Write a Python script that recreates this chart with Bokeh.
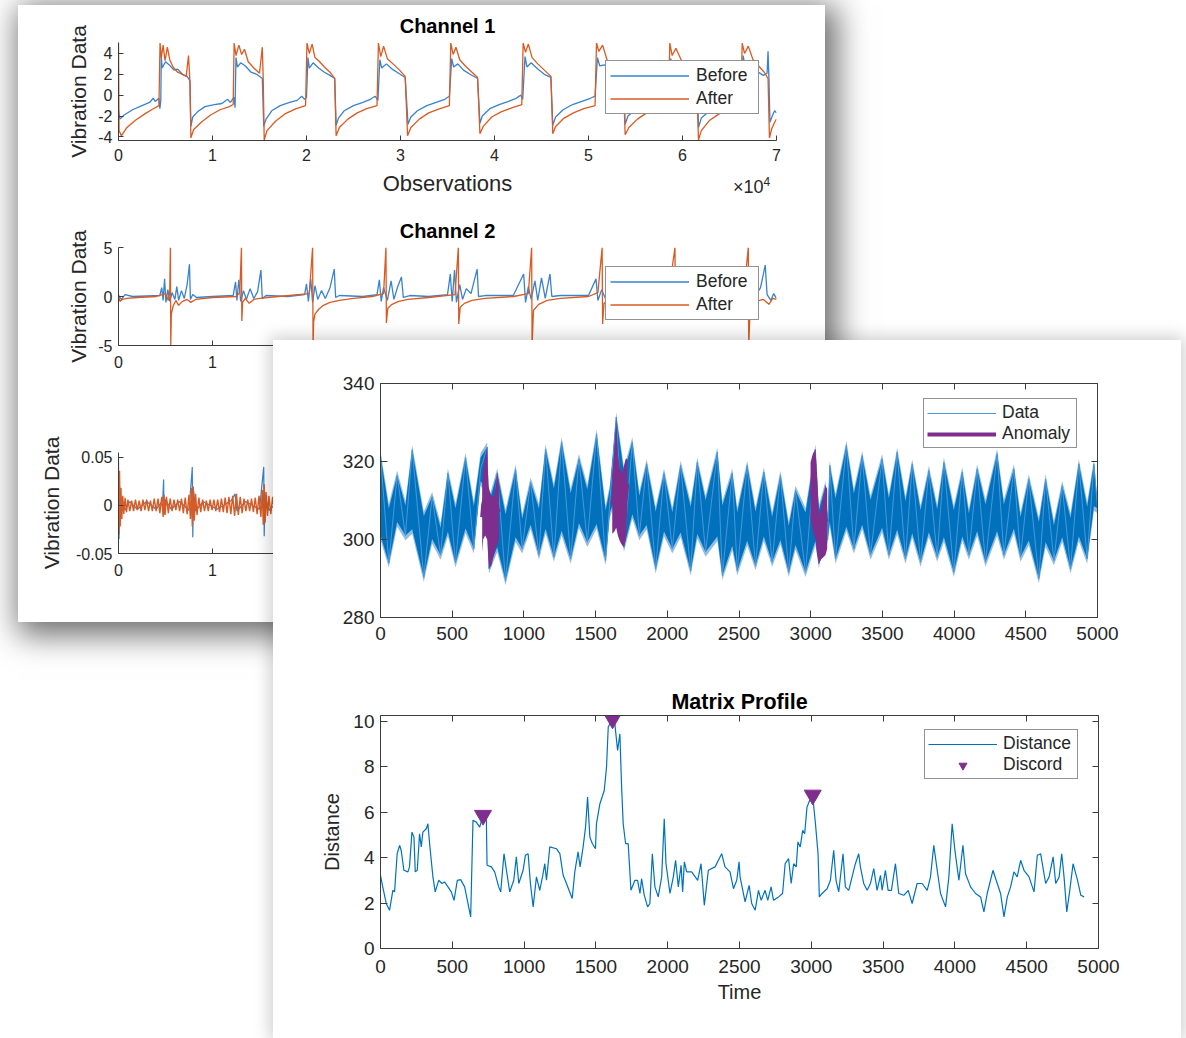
from bokeh.plotting import figure
from bokeh.models import (Range1d, LinearAxis, FixedTicker, Legend, LegendItem, Div, Column)
from bokeh.embed import file_html
from bokeh.resources import INLINE

FONT = "Liberation Sans"
AX = "#3c3c3c"
TXT = "#262626"
BLUE_OLD = "#3A82CD"
ORANGE = "#D95A22"
BLUE = "#0072BD"
PURPLE = "#7E2F8E"

# ------------------------------------------------------------------ data
ch_xticks = [0, 10000, 20000, 30000, 40000, 50000, 60000, 70000]
ch_xlabels = ["0", "1", "2", "3", "4", "5", "6", "7"]
ch_xlabels_cut = ["0", "1", "", "", "", "", "", ""]
ch1_yticks = [-4, -2, 0, 2, 4]
ch1_ylabels = ["-4", "-2", "0", "2", "4"]
ch2_yticks = [-5, 0, 5]
ch2_ylabels = ["-5", "0", "5"]
ch3_yticks = [-0.05, 0, 0.05]
ch3_ylabels = ["-0.05", "0", "0.05"]

ch1_before = [(0, -1.5), (150, -2.3), (600, -1.9), (1500, -1.4), (2500, -1.0), (3300, -0.7), (3700, -0.3),
              (3900, -0.6), (4300, -0.3), (4400, -1.3), (4500, -0.5), (4550, 3.7), (4650, 2.6), (5000, 3.2),
              (5400, 2.9), (5900, 2.4), (6300, 2.5), (6800, 2.0), (7300, 1.8), (7600, 1.4),
              (7700, -3.0), (7900, -2.1), (8400, -1.6), (9200, -1.1), (10200, -0.9), (11000, -0.8), (11600, -0.4),
              (11900, -0.7), (12300, -0.2), (12400, -1.2),
              (12500, 3.6), (12650, 2.7), (13000, 3.1), (13500, 2.8), (14100, 2.2), (14700, 2.0), (15300, 1.6),
              (15450, -3.0), (15700, -2.3), (16300, -1.5), (17200, -1.0), (18200, -0.7), (19000, -0.5), (19500, -0.1),
              (19800, -0.4), (20000, -0.2),
              (20150, 3.6), (20300, 2.6), (20700, 3.1), (21300, 2.6), (21900, 2.2), (22500, 1.9), (23000, 1.6),
              (23150, -2.9), (23400, -2.2), (24000, -1.5), (25000, -1.0), (26000, -0.7), (26800, -0.4), (27300, -0.1),
              (27600, -0.5),
              (27800, 3.4), (28000, 2.6), (28500, 3.0), (29100, 2.5), (29800, 2.1), (30500, 1.7),
              (30800, -2.8), (31100, -2.1), (31800, -1.5), (32800, -1.0), (33800, -0.7), (34700, -0.4), (35200, -0.1),
              (35450, 3.5), (35650, 2.7), (36100, 3.0), (36700, 2.4), (37400, 2.0), (38200, 1.6),
              (38450, -2.7), (38700, -2.0), (39500, -1.3), (40500, -0.9), (41500, -0.6), (42300, -0.3), (42800, 0.0),
              (43000, -0.4),
              (43250, 3.7), (43450, 2.7), (43900, 3.1), (44600, 2.5), (45300, 2.0), (46000, 1.7),
              (46200, -2.9), (46500, -2.1), (47300, -1.4), (48300, -0.9), (49300, -0.6), (50200, -0.3), (50700, -0.1),
              (50950, 3.6), (51200, 2.8), (51700, 2.9), (52500, 2.3), (53200, 1.9), (53700, 1.6),
              (53900, -2.8), (54200, -2.0), (55000, -1.4), (56000, -1.0), (57000, -0.7), (58000, -0.4), (58500, -0.2),
              (58750, 3.5), (59000, 2.7), (59600, 2.8), (60400, 2.2), (61100, 1.8), (61600, 1.5),
              (61700, -3.1), (62000, -2.2), (62900, -1.5), (63900, -1.0), (64900, -0.7), (65800, -0.4), (66200, -0.2),
              (66450, 3.8), (66700, 2.6), (67200, 2.9), (67900, 2.3), (68600, 1.9), (69000, 2.1), (69100, 4.2),
              (69200, 1.5), (69300, -2.6), (69550, -2.0), (69800, -1.5), (70000, -1.7)]

ch1_after = [(0, 5.0), (60, -3.4), (300, -3.9), (900, -3.1), (1800, -2.4), (2800, -1.8), (3700, -1.3), (4300, -1.0),
             (4420, 5.0), (4550, 3.6), (4750, 4.8), (4950, 3.3), (5200, 4.6), (5450, 3.4), (5800, 2.7), (6300, 2.2),
             (6800, 2.0), (7200, 1.8), (7450, 3.8), (7600, 1.2),
             (7700, -4.1), (8000, -3.3), (8800, -2.6), (9800, -1.9), (10800, -1.4), (11800, -1.1), (12200, -0.9),
             (12300, 5.0), (12500, 3.8), (12800, 4.8), (13100, 3.9), (13400, 4.4), (13800, 3.2), (14400, 2.6),
             (15000, 2.1), (15300, 4.6), (15400, 1.4),
             (15500, -4.3), (15800, -3.4), (16700, -2.5), (17700, -1.8), (18900, -1.3), (19900, -1.0),
             (20050, 5.0), (20300, 4.0), (20600, 4.9), (20900, 3.6), (21300, 3.3), (21900, 2.7), (22500, 2.2),
             (23000, 1.6),
             (23150, -3.9), (23500, -3.1), (24400, -2.3), (25400, -1.7), (26400, -1.3), (27500, -1.0),
             (27650, 5.0), (27900, 3.7), (28200, 4.7), (28600, 3.5), (29200, 3.0), (29900, 2.4), (30500, 1.8),
             (30750, -3.9), (31100, -3.1), (32000, -2.3), (33000, -1.7), (34200, -1.3), (35200, -1.0),
             (35350, 5.0), (35600, 3.9), (35900, 4.6), (36300, 3.4), (36900, 2.8), (37600, 2.2), (38200, 1.7),
             (38450, -3.7), (38800, -3.0), (39700, -2.1), (40700, -1.6), (41900, -1.2), (42900, -0.9),
             (43050, 5.0), (43300, 4.1), (43600, 4.9), (44000, 3.6), (44600, 3.0), (45300, 2.4), (46000, 1.8),
             (46200, -3.7), (46500, -3.0), (47400, -2.2), (48400, -1.7), (49500, -1.3), (50700, -1.0),
             (50850, 5.0), (51100, 4.2), (51500, 4.8), (52000, 3.3), (52700, 2.6), (53300, 2.1), (53700, 1.6),
             (53900, -3.8), (54300, -3.1), (55200, -2.3), (56200, -1.7), (57300, -1.3), (58500, -1.0),
             (58650, 5.0), (58900, 3.8), (59300, 4.5), (59900, 3.3), (60600, 2.6), (61200, 2.0), (61500, 1.6),
             (61700, -4.3), (62000, -3.4), (62900, -2.4), (63900, -1.8), (65100, -1.3), (66200, -1.0),
             (66350, 5.0), (66600, 4.0), (67000, 4.7), (67500, 3.4), (68100, 2.8), (68700, 2.2), (69100, 1.6),
             (69250, -4.1), (69500, -3.2), (69800, -2.6), (70000, -2.3)]

ch2_before = [(0, 0.1), (300, -0.3), (700, 0.2), (1500, 0.0), (3000, 0.05), (4400, 0.1), (4600, 0.9), (4750, -0.4),
              (4900, 1.8), (5050, -0.6), (5250, 0.7), (5450, -0.5), (5700, 0.4), (6000, -0.3), (6200, 1.0),
              (6400, -0.4), (6700, 0.6), (7000, -0.2), (7300, 1.2), (7550, 3.3), (7650, -0.3), (7900, 0.2),
              (8300, -0.1), (10000, 0.0), (12200, 0.1), (12450, 1.5), (12600, -0.4), (12800, 1.7), (13000, -0.5),
              (13300, 0.6), (13600, -0.3), (14000, 0.8), (14400, -0.2), (14800, 0.5), (15150, 2.7), (15300, -0.2),
              (15700, 0.1), (18000, 0.0), (19800, 0.2), (20000, 1.3), (20200, -0.5), (20450, 1.8), (20650, -0.6),
              (20900, 1.1), (21200, -0.3), (21600, 0.6), (22000, -0.2), (22500, 0.9), (22950, 2.8), (23100, -0.1),
              (23500, 0.1), (26000, 0.0), (27500, 0.2), (27750, 1.7), (27950, -0.5), (28200, 0.9), (28600, -0.4),
              (29000, 1.6), (29300, -0.3), (29700, 1.0), (30100, 2.0), (30300, -0.1), (31000, 0.1), (33000, 0.0),
              (35000, 0.2), (35300, 2.3), (35500, -0.5), (35750, 2.7), (35950, -0.6), (36300, 1.2), (36600, -0.3),
              (37000, 0.8), (37500, 0.3), (38150, 2.8), (38300, 0.0), (39000, 0.1), (42000, 0.1), (43100, 2.3),
              (43300, -0.6), (43600, 1.0), (43900, -0.3), (44300, 1.6), (44600, -0.4), (45000, 1.9), (45400, -0.2),
              (45900, 2.3), (46100, 0.0), (47000, 0.1), (50000, 0.1), (50800, 1.8), (51000, -0.4), (51400, 0.7),
              (51800, -0.2), (52300, 0.5), (53000, 0.1), (55000, 0.0), (58600, 0.3), (58800, 1.6), (59100, -0.4),
              (59600, 0.6), (60200, 0.1), (62000, 0.0), (66200, 0.3), (66400, 1.7), (66700, -0.5), (67100, 0.6),
              (67600, -0.2), (68300, 0.9), (68800, 3.2), (69000, 0.2), (69400, -0.4), (69700, 0.3), (70000, -0.2)]

ch2_after = [(0, 0.2), (150, -0.5), (400, -0.3), (900, -0.2), (2000, -0.1), (4000, 0.0), (5000, 0.3), (5300, -0.4),
             (5450, 0.5), (5520, 5.0), (5560, -5.0), (5620, -1.8), (5800, -1.0), (6100, -0.4), (6400, -0.9),
             (6800, -0.5), (7300, -0.3), (7700, -0.6), (8200, -0.3), (10000, -0.1), (12500, 0.0), (12900, 0.4),
             (13080, 5.0), (13120, -2.5), (13200, -0.6), (13500, -0.2), (13900, -0.7), (14400, -0.3), (15000, -0.2),
             (17000, 0.0), (20300, 0.3), (20650, 5.0), (20700, -5.0), (20760, -2.6), (20900, -1.8), (21300, -1.3),
             (21800, -0.9), (22500, -0.6), (23500, -0.4), (25000, -0.2), (27000, 0.0), (28200, 0.3), (28450, 5.0),
             (28500, -2.7), (28650, -1.2), (29100, -0.8), (29800, -0.5), (30800, -0.3), (33000, -0.1), (35800, 0.2),
             (36150, 5.0), (36200, -2.8), (36350, -1.1), (36800, -0.7), (37600, -0.4), (39000, -0.2), (42000, 0.0),
             (43600, 0.3), (43950, 5.0), (44000, -5.0), (44150, -1.4), (44700, -0.8), (45600, -0.4), (47000, -0.2),
             (50000, 0.0), (51000, 0.4), (51450, 5.0), (51500, -2.8), (51650, -0.7), (52200, -0.3), (54000, -0.1),
             (58500, 0.2), (59200, 5.0), (59250, -1.5), (59500, -0.4), (62000, -0.1), (66500, 0.2), (67000, 5.0),
             (67050, -5.0), (67200, -1.0), (67800, -0.5), (68600, -0.3), (69200, -0.8), (69600, -0.2), (70000, -0.3)]

ch3_before = [(0, 0.05), (60, -0.035), (120, 0.02), (200, -0.015), (400, 0.006), (700, -0.005), (1200, 0.004),
              (2000, -0.004), (3000, 0.004), (4000, -0.004), (4700, 0.005), (4800, 0.027), (4850, -0.01),
              (5000, 0.006), (5600, -0.004), (6500, 0.004), (7500, -0.005), (7850, 0.04), (7900, -0.033),
              (8000, 0.015), (8200, -0.006), (9000, 0.004), (10500, -0.004), (12000, 0.005), (12400, 0.012),
              (12600, -0.006), (13500, 0.004), (15000, -0.004), (15450, 0.04), (15500, -0.032), (15600, 0.01),
              (16000, -0.005), (17000, 0.004)]

ch3_after = [(0, 0.032), (50, -0.03), (110, 0.036), (180, -0.022), (260, 0.018), (350, -0.014), (450, 0.01),
             (560, -0.009), (700, 0.008), (850, -0.007), (1000, 0.006), (1200, -0.006), (1400, 0.005), (1600, -0.006),
             (1800, 0.006), (2000, -0.005), (2200, 0.005), (2400, -0.006), (2600, 0.006), (2800, -0.005),
             (3000, 0.006), (3200, -0.006), (3400, 0.005), (3600, -0.006), (3800, 0.007), (4000, -0.006),
             (4200, 0.007), (4400, -0.008), (4600, 0.009), (4750, -0.012), (4850, 0.011), (4950, -0.01),
             (5100, 0.009), (5300, -0.008), (5500, 0.007), (5700, -0.006), (5900, 0.006), (6100, -0.005),
             (6300, 0.006), (6500, -0.006), (6700, 0.007), (6900, -0.008), (7100, 0.008), (7300, -0.009),
             (7500, 0.011), (7650, -0.014), (7750, 0.018), (7850, -0.022), (7950, 0.02), (8050, -0.016),
             (8200, 0.012), (8350, -0.01), (8550, 0.008), (8750, -0.007), (8950, 0.006), (9150, -0.006),
             (9350, 0.005), (9550, -0.006), (9750, 0.006), (9950, -0.005), (10150, 0.006), (10350, -0.006),
             (10550, 0.006), (10750, -0.007), (10950, 0.007), (11150, -0.007), (11350, 0.008), (11550, -0.008),
             (11750, 0.009), (11950, -0.009), (12150, 0.01), (12350, -0.011), (12550, 0.012), (12750, -0.01),
             (12950, 0.009), (13150, -0.008), (13350, 0.007), (13550, -0.006), (13750, 0.006), (13950, -0.006),
             (14150, 0.007), (14350, -0.007), (14550, 0.008), (14750, -0.009), (14950, 0.01), (15150, -0.012),
             (15300, 0.016), (15400, -0.02), (15500, 0.022), (15600, -0.018), (15700, 0.014), (15850, -0.011),
             (16000, 0.01), (16200, -0.009), (16400, 0.009), (16600, -0.008), (16800, 0.008), (17000, -0.007)]

front_xticks = [0, 500, 1000, 1500, 2000, 2500, 3000, 3500, 4000, 4500, 5000]
data_yticks = [280, 300, 320, 340]
mp_yticks = [0, 2, 4, 6, 8, 10]

data_series = [(0, 321.5), (58, 294), (116, 316.4), (174, 301), (221, 323), (302, 290.3), (360, 311), (419, 296),
               (470, 317), (523, 294), (593, 321), (651, 297.6), (698, 318), (744, 323.7), (756, 292.5), (814, 317),
               (872, 289.5), (942, 318), (988, 297.6), (1047, 314.7), (1105, 296), (1151, 323.2), (1209, 295.5),
               (1263, 325), (1326, 295), (1384, 320.7), (1442, 299.3), (1507, 327), (1570, 294.6), (1600, 310),
               (1644, 331.4), (1698, 298), (1756, 325), (1805, 301), (1856, 319.4), (1919, 292.5), (1977, 317),
               (2035, 297.6), (2093, 319), (2163, 292), (2209, 319.8), (2267, 296.8), (2349, 322.4), (2384, 290.8),
               (2453, 317), (2488, 292), (2557, 319), (2615, 293.3), (2673, 317.3), (2731, 294.2), (2789, 316.4),
               (2847, 291.6), (2894, 312.6), (2964, 291.6), (3033, 323.2), (3057, 293.8), (3103, 313.8),
               (3118, 300), (3133, 319), (3173, 295), (3249, 324.1), (3301, 297.6), (3359, 321.5), (3417, 296),
               (3498, 320.7), (3545, 296), (3603, 322.4), (3661, 295), (3708, 319.4), (3766, 294.2), (3824, 317.7),
               (3882, 295.5), (3929, 319.8), (3998, 291.6), (4057, 317.3), (4103, 296), (4161, 318.1), (4219, 294.2),
               (4300, 322), (4347, 296), (4417, 318.1), (4463, 295.5), (4521, 315.5), (4591, 290), (4638, 315.5),
               (4696, 294.6), (4754, 313.8), (4812, 292.5), (4870, 319.4), (4928, 295), (4975, 319.4), (5000, 308)]

# anomaly subsequences: x, upper and lower outline of the dense purple trace
anom1_x = [709, 716, 730, 744, 752, 760, 775, 790, 805, 814, 826]
anom1_hi = [314.7, 318, 321, 323.7, 314, 312.6, 311, 311, 314, 317.3, 314]
anom1_lo = [296.7, 300, 301, 300, 295, 292.5, 293.5, 296, 298, 298.5, 300]
anom2_x = [1616, 1630, 1644, 1655, 1670, 1685, 1698, 1710, 1721]
anom2_hi = [316.4, 322, 331.4, 322, 318, 317, 319, 320.7, 320.7]
anom2_lo = [301.5, 302, 303, 301, 299.5, 298.5, 298, 300, 307.9]
anom3_x = [2999, 3015, 3033, 3045, 3057, 3075, 3090, 3103, 3115]
anom3_hi = [319.8, 322, 323.2, 316, 306, 308, 311, 313.8, 313]
anom3_lo = [305.3, 302, 300, 296, 293.8, 295, 295.5, 296, 297.6]

matrix_profile = [(0, 3.22), (16, 2.7), (40, 1.98), (63, 1.68), (86, 2.56), (98, 2.49), (116, 4.17), (133, 4.54),
                  (144, 4.32), (163, 3.44), (191, 3.37), (202, 3.59), (219, 5.12), (233, 4.9), (242, 3.37),
                  (256, 3.44), (272, 5.05), (284, 4.47), (295, 5.12), (319, 5.27), (330, 5.49), (342, 4.61),
                  (365, 3.15), (381, 2.49), (405, 3.0), (428, 2.86), (446, 2.93), (470, 2.71), (493, 2.49),
                  (512, 2.12), (535, 3.0), (558, 3.03), (586, 2.71), (609, 1.98), (628, 1.39), (644, 5.64),
                  (667, 5.56), (691, 5.34), (714, 5.86), (737, 5.71), (742, 3.66), (772, 3.59), (795, 3.37),
                  (823, 2.71), (837, 2.49), (860, 4.17), (877, 3.44), (900, 2.49), (928, 3.0), (946, 4.03),
                  (963, 2.86), (993, 3.44), (1009, 4.1), (1028, 4.17), (1044, 2.86), (1063, 1.83), (1086, 3.15),
                  (1109, 2.56), (1128, 3.15), (1144, 3.73), (1156, 3.0), (1179, 4.47), (1225, 4.39), (1249, 4.17),
                  (1272, 3.22), (1295, 2.86), (1335, 2.2), (1353, 3.37), (1376, 4.25), (1390, 3.59), (1411, 4.47),
                  (1428, 5.34), (1442, 6.66), (1458, 4.9), (1476, 4.61), (1497, 4.39), (1504, 5.49), (1528, 6.37),
                  (1558, 6.95), (1574, 7.98), (1586, 9.74), (1609, 10.03), (1632, 9.88), (1651, 8.71), (1667, 9.44),
                  (1679, 7.1), (1690, 5.49), (1707, 4.61), (1725, 4.61), (1744, 2.56), (1772, 3.0), (1790, 3.0),
                  (1807, 2.42), (1818, 3.07), (1837, 2.34), (1860, 1.83), (1876, 1.98), (1893, 4.17), (1911, 2.71),
                  (1934, 2.27), (1958, 3.15), (1976, 5.71), (1988, 3.73), (2016, 2.42), (2039, 3.15), (2055, 3.88),
                  (2074, 2.71), (2093, 3.66), (2104, 2.49), (2116, 3.81), (2132, 3.37), (2167, 3.37), (2209, 3.0),
                  (2232, 3.73), (2255, 1.9), (2283, 3.44), (2330, 3.59), (2376, 4.17), (2399, 3.59), (2434, 3.37),
                  (2458, 2.63), (2481, 3.0), (2497, 3.81), (2504, 3.15), (2539, 2.05), (2567, 2.78), (2585, 1.98),
                  (2609, 1.68), (2632, 2.56), (2651, 2.12), (2678, 2.56), (2697, 2.12), (2720, 2.71), (2737, 2.12),
                  (2772, 2.27), (2800, 2.42), (2818, 3.73), (2842, 3.95), (2860, 2.86), (2877, 3.73), (2895, 3.59),
                  (2907, 4.69), (2923, 4.47), (2940, 5.2), (2954, 5.05), (2970, 6.22), (2989, 6.52), (3010, 6.7),
                  (3029, 5.49), (3047, 4.17), (3056, 2.27), (3075, 2.42), (3110, 2.63), (3133, 3.0), (3156, 4.32),
                  (3172, 3.0), (3191, 2.49), (3221, 4.17), (3237, 2.71), (3261, 2.56), (3284, 3.15), (3307, 3.73),
                  (3330, 4.17), (3342, 3.59), (3365, 2.86), (3389, 2.56), (3412, 2.86), (3435, 3.51), (3458, 2.56),
                  (3482, 3.22), (3493, 2.56), (3516, 3.44), (3535, 2.56), (3558, 2.56), (3586, 3.73), (3609, 2.42),
                  (3644, 2.34), (3675, 2.56), (3702, 1.98), (3737, 2.86), (3772, 2.86), (3807, 2.56), (3830, 3.15),
                  (3853, 4.54), (3877, 3.44), (3900, 2.42), (3935, 1.83), (3958, 3.15), (3981, 5.49), (4000, 4.32),
                  (4028, 3.0), (4056, 4.54), (4074, 3.29), (4109, 2.71), (4144, 2.42), (4179, 2.27), (4202, 1.61),
                  (4225, 2.42), (4265, 3.44), (4295, 2.86), (4318, 2.42), (4342, 1.39), (4365, 2.27), (4388, 2.71),
                  (4411, 3.37), (4434, 3.15), (4458, 3.88), (4481, 3.44), (4516, 3.15), (4551, 2.49), (4574, 4.1),
                  (4597, 4.17), (4632, 2.86), (4656, 3.15), (4684, 4.03), (4702, 2.86), (4726, 3.15), (4744, 4.17),
                  (4760, 3.15), (4779, 1.61), (4800, 2.56), (4823, 3.73), (4854, 3.0), (4877, 2.34), (4900, 2.27)]

discords = [(714, 5.86), (1616, 10.1), (3010, 6.75)]

# visual depth of the dense band: how far the white gaps reach into it (style, data units)
GAP_TOP = 11
GAP_BOTTOM = 7


def xs(pts):
    return [p[0] for p in pts]


def ys(pts):
    return [p[1] for p in pts]


def band(pts):
    """Upper/lower outline of a densely sampled oscillating trace through its read extremes."""
    y = ys(pts)
    up, lo = [], []
    for i, v in enumerate(y):
        nb = [y[j] for j in (i - 1, i + 1) if 0 <= j < len(y)]
        avg = sum(nb) / len(nb)
        if all(v >= n for n in nb):
            up.append(v)
            lo.append(min(v, avg + GAP_BOTTOM))
        elif all(v <= n for n in nb):
            lo.append(v)
            up.append(max(v, avg - GAP_TOP))
        else:
            up.append(v + 3)
            lo.append(v - 3)
    return up, lo


# ------------------------------------------------------------------ helpers
def make_fig(left, top, fw, fh, ml, mr, mt, mb, xr, yr, fill="white"):
    p = figure(frame_width=fw, frame_height=fh, min_border_left=ml, min_border_right=mr,
               min_border_top=mt, min_border_bottom=mb, x_range=xr, y_range=yr,
               output_backend="svg", toolbar_location=None,
               styles={"position": "absolute", "left": f"{left}px", "top": f"{top}px"})
    p.xgrid.visible = False
    p.ygrid.visible = False
    p.outline_line_color = None
    p.background_fill_color = fill
    p.border_fill_color = fill
    return p


def style_axis(ax, ticks, labels, tick_fs, label_fs, standoff, label_standoff, tick_in=5):
    ax.ticker = FixedTicker(ticks=ticks)
    if labels is not None:
        ax.major_label_overrides = {t: l for t, l in zip(ticks, labels)}
    ax.axis_line_color = AX
    ax.axis_line_width = 1
    ax.major_tick_line_color = AX
    ax.major_tick_in = tick_in
    ax.major_tick_out = 0
    ax.minor_tick_line_color = None
    ax.major_label_standoff = standoff
    ax.major_label_text_font = FONT
    ax.major_label_text_font_size = f"{tick_fs}px"
    ax.major_label_text_color = TXT
    ax.axis_label_standoff = label_standoff
    ax.axis_label_text_font = FONT
    ax.axis_label_text_font_size = f"{label_fs}px"
    ax.axis_label_text_font_style = "normal"
    ax.axis_label_text_color = TXT


def add_box(p, xticks, yticks):
    for loc, ticks in (("above", xticks), ("right", yticks)):
        ax = LinearAxis(ticker=FixedTicker(ticks=ticks))
        ax.axis_line_color = AX
        ax.major_tick_line_color = AX
        ax.major_tick_in = 6
        ax.major_tick_out = 0
        ax.minor_tick_line_color = None
        ax.major_label_text_font_size = "0px"
        ax.major_label_text_color = None
        ax.major_label_standoff = 0
        p.add_layout(ax, loc)


def set_title(p, text, size, standoff):
    p.title.text = text
    p.title.align = "center"
    p.title.text_font = FONT
    p.title.text_font_size = f"{size}px"
    p.title.text_font_style = "bold"
    p.title.text_color = "black"
    p.title.standoff = standoff


def make_legend(items, loc, fs, pad, spacing, gw, gh, stand, lw):
    return Legend(items=items, location=loc, label_text_font=FONT, label_text_font_size=f"{fs}px",
                  label_text_color=TXT, padding=pad, spacing=spacing, margin=0, glyph_width=gw,
                  glyph_height=gh, label_height=gh, label_standoff=stand, label_width=lw,
                  border_line_color="#262626", border_line_width=1, background_fill_color="white",
                  background_fill_alpha=1.0)


# ------------------------------------------------------------------ back window
bg_panel = Div(text="", width=807, height=617,
               styles={"position": "absolute", "left": "13px", "top": "0px", "width": "807px",
                       "height": "617px", "background-color": "white",
                       "box-shadow": "6px 7px 30px 6px rgba(0,0,0,0.58)"})

# Channel 1
ch1 = make_fig(11, 5, 658, 98, 93, 49, 37, 62, Range1d(0, 70000), Range1d(-4.35, 5.05), fill=None)
set_title(ch1, "Channel 1", 20, 11)
style_axis(ch1.xaxis[0], ch_xticks, ch_xlabels, 16, 22, 8, 7)
style_axis(ch1.yaxis[0], ch1_yticks, ch1_ylabels, 16, 21, 6, 5)
ch1.xaxis[0].axis_label = "Observations"
ch1.yaxis[0].axis_label = "Vibration Data"
r1b = ch1.line(xs(ch1_before), ys(ch1_before), line_color=BLUE_OLD, line_width=1.3)
r1a = ch1.line(xs(ch1_after), ys(ch1_after), line_color=ORANGE, line_width=1.3)
ch1.add_layout(make_legend([LegendItem(label="Before", renderers=[r1b]),
                            LegendItem(label="After", renderers=[r1a])],
                           (487, 26), 17.5, 4, 2, 79, 21, 7, 58))
exp_label = Div(text="×10<sup style='font-size:12px'>4</sup>", width=60, height=26,
                styles={"position": "absolute", "left": "728px", "top": "166px", "font-family": FONT,
                        "font-size": "18px", "color": TXT, "line-height": "22px"})

# Channel 2
ch2 = make_fig(11, 205, 658, 98, 93, 49, 42, 40, Range1d(0, 70000), Range1d(-5, 5), fill=None)
set_title(ch2, "Channel 2", 20, 11)
style_axis(ch2.xaxis[0], ch_xticks, ch_xlabels_cut, 16, 21, 10, 3)
style_axis(ch2.yaxis[0], ch2_yticks, ch2_ylabels, 16, 21, 6, 5)
ch2.yaxis[0].axis_label = "Vibration Data"
r2b = ch2.line(xs(ch2_before), ys(ch2_before), line_color=BLUE_OLD, line_width=1.3)
r2a = ch2.line(xs(ch2_after), ys(ch2_after), line_color=ORANGE, line_width=1.3)
ch2.add_layout(make_legend([LegendItem(label="Before", renderers=[r2b]),
                            LegendItem(label="After", renderers=[r2a])],
                           (487, 25), 17.5, 4, 2, 79, 21, 7, 58))

# Channel 3 (mostly hidden behind the front window)
ch3 = make_fig(11, 400, 658, 101, 93, 49, 52, 45, Range1d(0, 70000), Range1d(-0.05, 0.055), fill=None)
style_axis(ch3.xaxis[0], ch_xticks, ch_xlabels_cut, 16, 21, 10, 3)
style_axis(ch3.yaxis[0], ch3_yticks, ch3_ylabels, 16, 21, 6, 10)
ch3.yaxis[0].axis_label = "Vibration Data"
ch3.line(xs(ch3_before), ys(ch3_before), line_color=BLUE_OLD, line_width=1.2)
ch3.line(xs(ch3_after), ys(ch3_after), line_color=ORANGE, line_width=1.4)

# ------------------------------------------------------------------ front window
fr_panel = Div(text="", width=908, height=698,
               styles={"position": "absolute", "left": "268px", "top": "335px", "width": "908px",
                       "height": "698px", "background-color": "white",
                       "box-shadow": "0px 0px 16px 3px rgba(0,0,0,0.2)"})

top = make_fig(273, 350, 717, 234, 107, 83, 33, 43, Range1d(0, 5000), Range1d(280, 340))
style_axis(top.xaxis[0], front_xticks, None, 19, 20, 9, 4, tick_in=7)
style_axis(top.yaxis[0], data_yticks, None, 19, 20, 6, 6, tick_in=7)
add_box(top, front_xticks, data_yticks)
dx, dy = xs(data_series), ys(data_series)
d_up, d_lo = band(data_series)
top.varea(x=dx, y1=[v - 1.2 for v in d_lo], y2=[v + 1.2 for v in d_up], fill_color="#74ade0", fill_alpha=0.8)
top.varea(x=dx, y1=d_lo, y2=d_up, fill_color=BLUE)
r_data = top.line(dx, dy, line_color="#4a97d9", line_width=1)
anom_legend = None
for axs, ahi, alo in ((anom1_x, anom1_hi, anom1_lo), (anom2_x, anom2_hi, anom2_lo), (anom3_x, anom3_hi, anom3_lo)):
    top.varea(x=axs, y1=alo, y2=ahi, fill_color=PURPLE)
    r = top.line(axs, [(h + l) / 2 for h, l in zip(ahi, alo)], line_color=PURPLE, line_width=4)
    if anom_legend is None:
        anom_legend = r
top.add_layout(make_legend([LegendItem(label="Data", renderers=[r_data]),
                            LegendItem(label="Anomaly", renderers=[anom_legend])],
                           (543, 169), 17.5, 3, 0, 69, 20, 6, 71))

mp = make_fig(273, 672, 718, 233, 106, 83, 43, 77, Range1d(0, 5000), Range1d(0, 10.25))
set_title(mp, "Matrix Profile", 21.5, 4)
style_axis(mp.xaxis[0], front_xticks, None, 19, 20, 11, 5, tick_in=7)
style_axis(mp.yaxis[0], mp_yticks, None, 19, 20, 6, 7, tick_in=7)
mp.xaxis[0].axis_label = "Time"
mp.yaxis[0].axis_label = "Distance"
add_box(mp, front_xticks, mp_yticks)
r_mp = mp.line(xs(matrix_profile), ys(matrix_profile), line_color=BLUE, line_width=1.2)
r_disc = mp.scatter(xs(discords), ys(discords), marker="inverted_triangle", size=17,
                    fill_color=PURPLE, line_color=PURPLE)
mp.add_layout(make_legend([LegendItem(label="Distance", renderers=[r_mp]),
                           LegendItem(label="Discord", renderers=[r_disc])],
                          (544, 169), 17.5, 3, 0, 69, 20, 6, 71))

root = Column(children=[bg_panel, ch1, ch2, ch3, exp_label, fr_panel, top, mp], width=1180, height=1030,
              styles={"position": "relative"})

with open("out.html", "w") as f:
    f.write(file_html(root, INLINE))
